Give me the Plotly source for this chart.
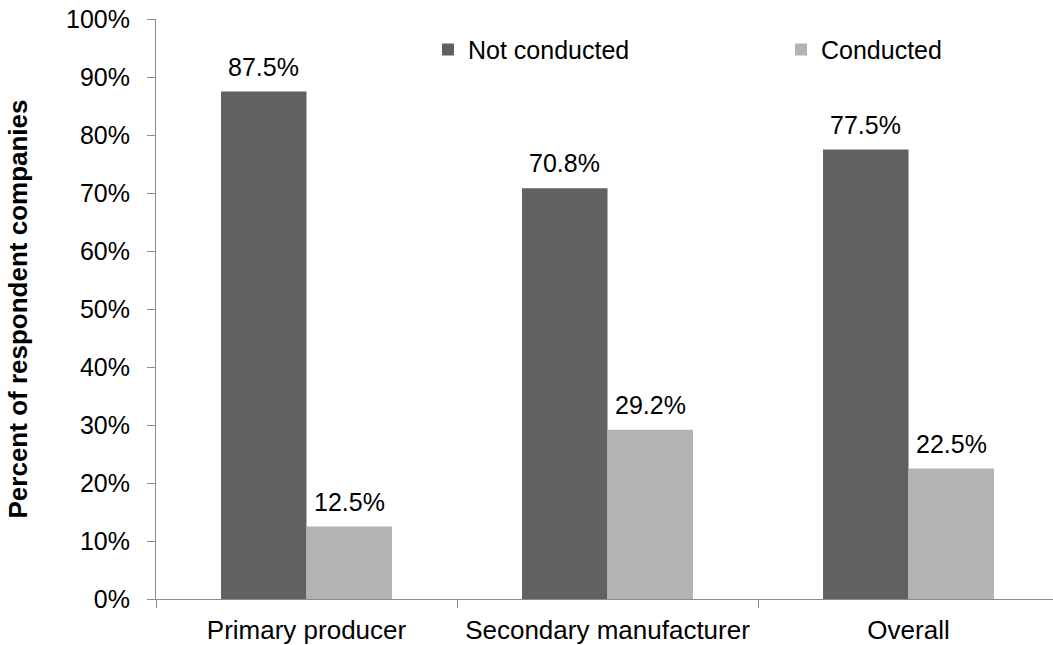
import plotly.graph_objects as go

categories = ["Primary producer", "Secondary manufacturer", "Overall"]
not_conducted = [87.5, 70.8, 77.5]
conducted = [12.5, 29.2, 22.5]
y_ticks = [0, 10, 20, 30, 40, 50, 60, 70, 80, 90, 100]
y_tick_labels = [f"{v}%" for v in y_ticks]

FONT = "Liberation Sans, Arial, sans-serif"
FS = 25
DARK = "#616161"
LIGHT = "#b3b3b3"
AXIS = "#8c8c8c"

fig = go.Figure()
fig.add_trace(go.Bar(
    x=categories, y=not_conducted, name="Not conducted",
    marker=dict(color=DARK, line=dict(width=0)), legend="legend",
))
fig.add_trace(go.Bar(
    x=categories, y=conducted, name="Conducted",
    marker=dict(color=LIGHT, line=dict(width=0)), legend="legend2",
))

# value labels above bars
for series, shift in ((not_conducted, -43), (conducted, 43)):
    for c, v in zip(categories, series):
        fig.add_annotation(
            x=c, y=v, xref="x", yref="y", text=f"{v:.1f}%",
            showarrow=False, xanchor="center", yanchor="bottom",
            xshift=shift, yshift=9,
            font=dict(size=FS, family=FONT, color="black"),
        )

legend_common = dict(
    orientation="h", yanchor="middle", y=0.947, xanchor="left",
    font=dict(size=FS, family=FONT, color="black"),
    bgcolor="rgba(0,0,0,0)", itemwidth=30,
)

fig.update_layout(
    width=1053, height=645,
    margin=dict(l=156, r=0, t=19, b=46),
    paper_bgcolor="white", plot_bgcolor="white",
    barmode="group", bargap=0.432, bargroupgap=0,
    font=dict(family=FONT, size=FS, color="black"),
    showlegend=True,
    legend=dict(x=(428 - 156) / 897, **legend_common),
    legend2=dict(x=(781 - 156) / 897, **legend_common),
    xaxis=dict(
        type="category", range=[-0.5, 2.48],
        showline=True, linecolor=AXIS, linewidth=1,
        ticks="outside", tickson="boundaries", ticklen=8, tickcolor=AXIS,
        showgrid=False, zeroline=False,
        tickfont=dict(size=26, family=FONT, color="black"),
        ticklabelstandoff=8,
    ),
    yaxis=dict(
        range=[0, 100], tickvals=y_ticks, ticktext=y_tick_labels,
        showline=True, linecolor=AXIS, linewidth=1,
        ticks="outside", ticklen=8, tickcolor=AXIS,
        showgrid=False, zeroline=False,
        tickfont=dict(size=FS, family=FONT, color="black"),
        ticklabelstandoff=12,
        title=dict(text="<b>Percent of respondent companies</b>",
                   font=dict(size=26, family=FONT, color="black"), standoff=30),
    ),
)

fig.write_html("out.html")
